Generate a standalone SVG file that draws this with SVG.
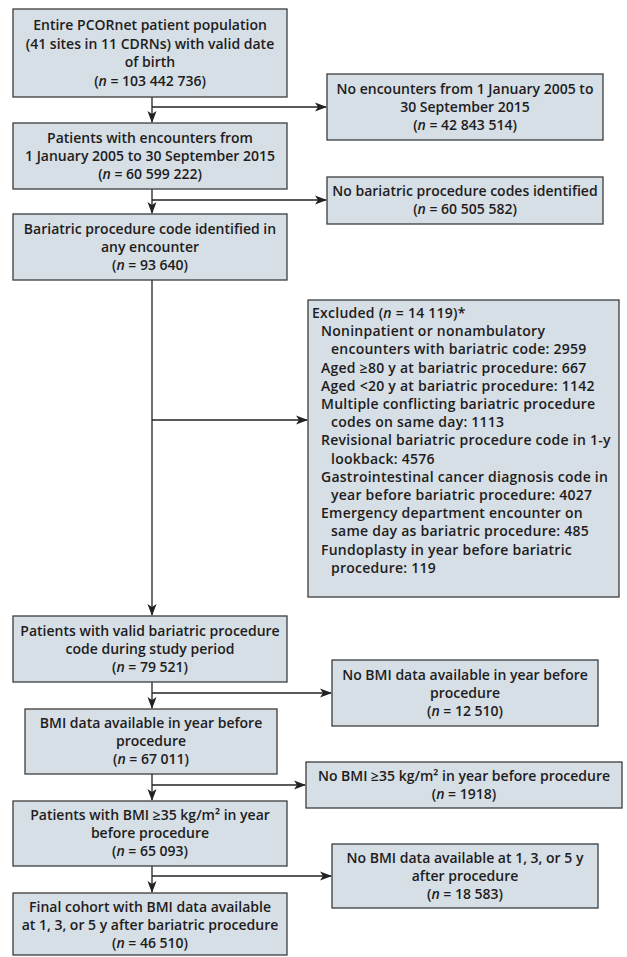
<svg xmlns="http://www.w3.org/2000/svg" width="627" height="957" viewBox="0 0 627 957">
<style>
.box{fill:#d5dfe5;stroke:#3c3c3c;stroke-width:1.3}
text{font-family:"Open Sans","Liberation Sans",sans-serif;font-size:14px;font-weight:600;fill:#1f1c1d}
.c{text-anchor:middle}
.i{font-style:italic}
.ex{letter-spacing:0.25px}
.ln{fill:none;stroke:#222;stroke-width:1.3}
</style>
<defs>
<marker id="ah" markerUnits="userSpaceOnUse" markerWidth="13" markerHeight="11" refX="11" refY="5" orient="auto">
<path d="M0,0.5 L12,5 L0,9.5 L3,5 Z" fill="#222"/>
</marker>
</defs>
<rect width="627" height="957" fill="#fff"/>
<g id="connectors">
<path class="ln" d="M152,97 V122" marker-end="url(#ah)"/>
<path class="ln" d="M152,107 H326" marker-end="url(#ah)"/>
<path class="ln" d="M152,189 V213" marker-end="url(#ah)"/>
<path class="ln" d="M152,200 H326" marker-end="url(#ah)"/>
<path class="ln" d="M152,280 V615" marker-end="url(#ah)"/>
<path class="ln" d="M152,420 H307" marker-end="url(#ah)"/>
<path class="ln" d="M152,682 V708" marker-end="url(#ah)"/>
<path class="ln" d="M152,693 H331" marker-end="url(#ah)"/>
<path class="ln" d="M152,774 V800" marker-end="url(#ah)"/>
<path class="ln" d="M152,785 H305" marker-end="url(#ah)"/>
<path class="ln" d="M152,866 V892" marker-end="url(#ah)"/>
<path class="ln" d="M152,876 H331" marker-end="url(#ah)"/>
</g>
<g id="n1">
<rect class="box" x="13" y="9" width="274" height="88"/>
<text class="c" x="150" y="30">Entire PCORnet patient population</text>
<text class="c" x="150" y="48.5">(41 sites in 11 CDRNs) with valid date</text>
<text class="c" x="150" y="67">of birth</text>
<text class="c" x="150" y="85.5">(<tspan class="i">n</tspan> = 103 442 736)</text>
</g>
<g id="n2">
<rect class="box" x="13" y="123" width="274" height="66"/>
<text class="c" x="150" y="142.5">Patients with encounters from</text>
<text class="c" x="150" y="160.5">1 January 2005 to 30 September 2015</text>
<text class="c" x="150" y="178.5">(<tspan class="i">n</tspan> = 60 599 222)</text>
</g>
<g id="n3">
<rect class="box" x="13" y="214" width="274" height="66"/>
<text class="c" x="150" y="233.5">Bariatric procedure code identified in</text>
<text class="c" x="150" y="251.5">any encounter</text>
<text class="c" x="150" y="269.5">(<tspan class="i">n</tspan> = 93 640)</text>
</g>
<g id="x1">
<rect class="box" x="327" y="74" width="276" height="66"/>
<text class="c" x="465" y="93.5">No encounters from 1 January 2005 to</text>
<text class="c" x="465" y="111.5">30 September 2015</text>
<text class="c" x="465" y="129.5">(<tspan class="i">n</tspan> = 42 843 514)</text>
</g>
<g id="x2">
<rect class="box" x="327" y="177" width="276" height="47"/>
<text class="c" x="465" y="196">No bariatric procedure codes identified</text>
<text class="c" x="465" y="214">(<tspan class="i">n</tspan> = 60 505 582)</text>
</g>
<g id="x3">
<rect class="box" x="308" y="300" width="311" height="297"/>
<text class="ex" x="312" y="318">Excluded (<tspan class="i">n</tspan> = 14 119)*</text>
<text class="ex" x="321" y="336.2">Noninpatient or nonambulatory</text>
<text class="ex" x="331" y="354.4">encounters with bariatric code: 2959</text>
<text class="ex" x="321" y="372.6">Aged ≥80 y at bariatric procedure: 667</text>
<text class="ex" x="321" y="390.8">Aged &lt;20 y at bariatric procedure: 1142</text>
<text class="ex" x="321" y="409">Multiple conflicting bariatric procedure</text>
<text class="ex" x="331" y="427.2">codes on same day: 1113</text>
<text class="ex" x="321" y="445.4">Revisional bariatric procedure code in 1-y</text>
<text class="ex" x="331" y="463.6">lookback: 4576</text>
<text class="ex" x="321" y="481.8">Gastrointestinal cancer diagnosis code in</text>
<text class="ex" x="331" y="500">year before bariatric procedure: 4027</text>
<text class="ex" x="321" y="518.2">Emergency department encounter on</text>
<text class="ex" x="331" y="536.4">same day as bariatric procedure: 485</text>
<text class="ex" x="321" y="554.6">Fundoplasty in year before bariatric</text>
<text class="ex" x="331" y="572.8">procedure: 119</text>
</g>
<g id="n4">
<rect class="box" x="13" y="616" width="274" height="66"/>
<text class="c" x="150" y="635.5">Patients with valid bariatric procedure</text>
<text class="c" x="150" y="653.5">code during study period</text>
<text class="c" x="150" y="671.5">(<tspan class="i">n</tspan> = 79 521)</text>
</g>
<g id="x4">
<rect class="box" x="332" y="660" width="266" height="66"/>
<text class="c" x="465" y="679.5">No BMI data available in year before</text>
<text class="c" x="465" y="697.5">procedure</text>
<text class="c" x="465" y="715.5">(<tspan class="i">n</tspan> = 12 510)</text>
</g>
<g id="n5">
<rect class="box" x="25" y="709" width="252" height="65"/>
<text class="c" x="151" y="728">BMI data available in year before</text>
<text class="c" x="151" y="746">procedure</text>
<text class="c" x="151" y="764">(<tspan class="i">n</tspan> = 67 011)</text>
</g>
<g id="x5">
<rect class="box" x="306" y="762" width="316" height="46"/>
<text class="c" x="464" y="781">No BMI ≥35 kg/m² in year before procedure</text>
<text class="c" x="464" y="799">(<tspan class="i">n</tspan> = 1918)</text>
</g>
<g id="n6">
<rect class="box" x="13" y="801" width="274" height="65"/>
<text class="c" x="150" y="820">Patients with BMI ≥35 kg/m² in year</text>
<text class="c" x="150" y="838">before procedure</text>
<text class="c" x="150" y="856">(<tspan class="i">n</tspan> = 65 093)</text>
</g>
<g id="x6">
<rect class="box" x="332" y="844" width="266" height="64"/>
<text class="c" x="465" y="863">No BMI data available at 1, 3, or 5 y</text>
<text class="c" x="465" y="881">after procedure</text>
<text class="c" x="465" y="899">(<tspan class="i">n</tspan> = 18 583)</text>
</g>
<g id="n7">
<rect class="box" x="13" y="893" width="274" height="62"/>
<text class="c" x="150" y="911.5">Final cohort with BMI data available</text>
<text class="c" x="150" y="929.5">at 1, 3, or 5 y after bariatric procedure</text>
<text class="c" x="150" y="947.5">(<tspan class="i">n</tspan> = 46 510)</text>
</g>
</svg>
